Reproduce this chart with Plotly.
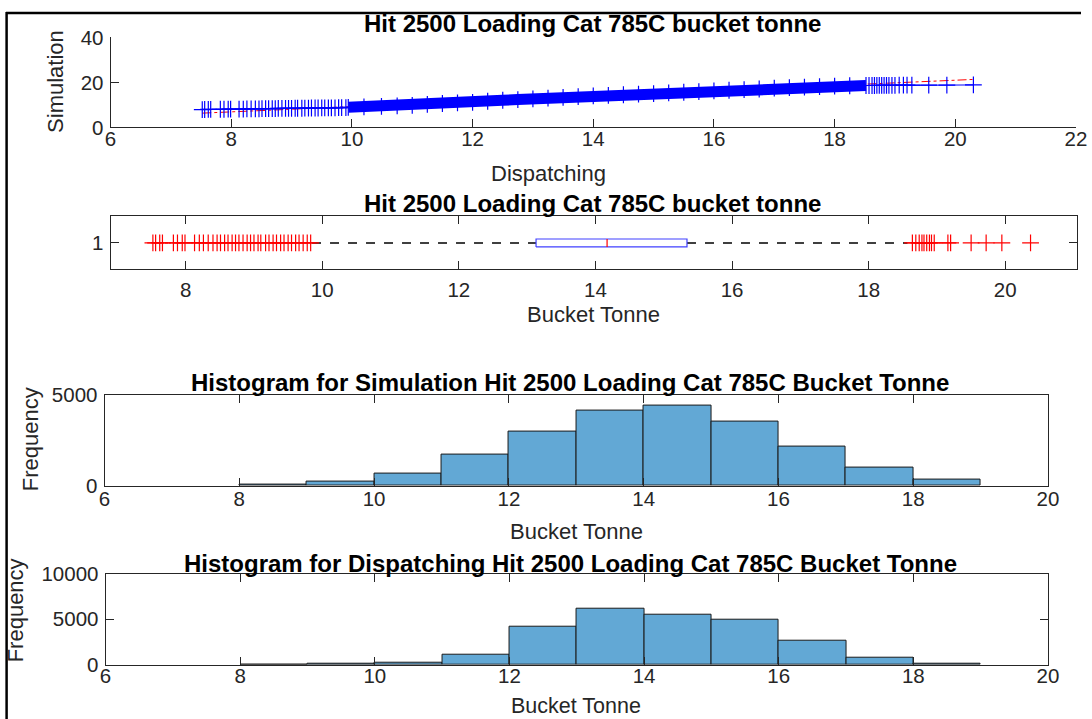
import plotly.graph_objects as go

W, H = 1092, 735
# the photographed page maps figure pixel f to picture pixel  a*f + b ; we place items by picture pixel
SX, OX = 0.985, 5.4
SY, OY = 0.968, 10.7

# ---------------- data ----------------
# Q-Q plot: Dispatching quantiles (x) vs Simulation quantiles (y)
qq_low_disp = [7.52, 7.56, 7.62, 7.66, 7.82, 7.88, 7.95, 7.99, 8.13, 8.20, 8.26, 8.33, 8.40, 8.46,
               8.51, 8.57, 8.62, 8.68, 8.73, 8.78, 8.84, 8.90, 8.95, 9.00, 9.06, 9.10, 9.17, 9.22,
               9.28, 9.33, 9.39, 9.44, 9.50, 9.55, 9.61, 9.66, 9.72, 9.78, 9.83, 9.90]
qq_low_sim = [7.9, 7.95, 8.0, 8.0, 8.05, 8.05, 8.1, 8.1, 8.15, 8.15, 8.2, 8.2, 8.25, 8.25, 8.3, 8.3,
              8.3, 8.35, 8.35, 8.4, 8.4, 8.4, 8.45, 8.45, 8.5, 8.5, 8.5, 8.55, 8.55, 8.6, 8.6, 8.6,
              8.65, 8.65, 8.7, 8.7, 8.7, 8.75, 8.75, 8.8]
qq_mid_disp = [9.94, 10.2, 10.49, 10.75, 11.0, 11.25, 11.5, 11.75, 12.0, 12.25, 12.5, 12.75, 13.0,
               13.25, 13.5, 13.75, 14.0, 14.25, 14.5, 14.75, 15.0, 15.25, 15.5, 15.75, 16.0, 16.25,
               16.5, 16.75, 17.0, 17.25, 17.5, 17.75, 18.0, 18.25, 18.52]
qq_mid_sim = [8.9, 9.1, 9.35, 9.55, 9.75, 10.2, 10.6, 10.85, 11.1, 11.6, 12.05, 12.35, 12.65, 13.0,
              13.35, 13.65, 14.0, 14.25, 14.5, 14.75, 15.0, 15.3, 15.6, 15.9, 16.25, 16.5, 16.75,
              17.05, 17.4, 17.65, 17.85, 18.1, 18.35, 18.5, 18.6]
qq_high_disp = [18.57, 18.62, 18.66, 18.70, 18.74, 18.78, 18.82, 18.86, 18.90, 18.95, 19.00, 19.07,
                19.14, 19.20, 19.28, 19.56, 19.86, 20.30]
qq_high_sim = [18.6, 18.6, 18.6, 18.65, 18.65, 18.65, 18.65, 18.7, 18.7, 18.7, 18.7, 18.75, 18.75,
               18.75, 18.75, 18.8, 18.8, 18.85]
# quartiles used for the Q-Q reference line
qq_quart_disp = [13.13, 15.34]
qq_quart_sim = [12.9, 15.49]

# Box plot of dispatching bucket tonne
box_q1, box_median, box_q3 = 13.13, 14.17, 15.34
box_lower_whisker, box_upper_whisker = 9.85, 18.57
box_low_outliers = qq_low_disp[:-1]
box_high_outliers = [18.64, 18.69, 18.74, 18.78, 18.81, 18.85, 18.89, 18.92, 18.96, 19.16, 19.20,
                     19.50, 19.72, 19.95, 20.37]

# Histograms (bin width 1)
bin_left_edges = [8, 9, 10, 11, 12, 13, 14, 15, 16, 17, 18]
sim_counts = [70, 200, 640, 1690, 2990, 4120, 4400, 3520, 2140, 970, 350]
disp_counts = [10, 70, 180, 1070, 4190, 6210, 5510, 4930, 2650, 810, 110]

# ---------------- helpers ----------------
def px_x(p):
    return ((p - OX) / SX) / W

def px_y(p):
    return 1 - ((p - OY) / SY) / H

AX = '#262626'
FONT = 'Liberation Sans, Arial, sans-serif'
TICKFONT = dict(family=FONT, size=20.5, color=AX)
BLUE = '#0000ff'
RED = '#ff0000'
HISTC = 'rgb(98,168,213)'

def axis(domain, rng, tickvals, anchor, mirror, standoff=0):
    return dict(domain=domain, range=rng, tickvals=tickvals, anchor=anchor, showline=True,
                linecolor=AX, linewidth=1, ticks='inside', ticklen=8, tickcolor=AX, tickwidth=1,
                mirror=mirror, showgrid=False, zeroline=False, tickfont=TICKFONT, fixedrange=True,
                tickformat='d', ticklabelstandoff=standoff)

fig = go.Figure()

# ---- panel 1: Q-Q plot ----
x_all = qq_low_disp + qq_mid_disp + qq_high_disp
y_all = qq_low_sim + qq_mid_sim + qq_high_sim
slope = (qq_quart_sim[1] - qq_quart_sim[0]) / (qq_quart_disp[1] - qq_quart_disp[0])
xmin, xmax = min(x_all), max(x_all)
ref_x = [xmin, xmax]
ref_y = [qq_quart_sim[0] + slope * (v - qq_quart_disp[0]) for v in ref_x]
fig.add_trace(go.Scatter(x=ref_x, y=ref_y, mode='lines', line=dict(color=RED, width=1, dash='dashdot'),
                         xaxis='x', yaxis='y', hoverinfo='skip'))
fig.add_trace(go.Scatter(x=x_all, y=y_all, mode='lines', line=dict(color=BLUE, width=1),
                         xaxis='x', yaxis='y', hoverinfo='skip'))
fig.add_trace(go.Scatter(x=qq_mid_disp, y=qq_mid_sim, mode='lines', line=dict(color=BLUE, width=11),
                         xaxis='x', yaxis='y', hoverinfo='skip'))
fig.add_trace(go.Scatter(x=x_all, y=y_all, mode='markers',
                         marker=dict(symbol='cross-thin', size=12, line=dict(color=BLUE, width=1.2)),
                         xaxis='x', yaxis='y'))

# ---- panel 2: box plot ----
hb = 0.075
fig.add_trace(go.Scatter(x=[box_lower_whisker, box_q1], y=[1, 1], mode='lines',
                         line=dict(color='black', width=1.6, dash='dash'), xaxis='x2', yaxis='y2'))
fig.add_trace(go.Scatter(x=[box_q3, box_upper_whisker], y=[1, 1], mode='lines',
                         line=dict(color='black', width=1.6, dash='dash'), xaxis='x2', yaxis='y2'))
fig.add_trace(go.Scatter(x=[box_q1, box_q3, box_q3, box_q1, box_q1], y=[1 - hb, 1 - hb, 1 + hb, 1 + hb, 1 - hb],
                         mode='lines', line=dict(color='#4040ff', width=1.2), xaxis='x2', yaxis='y2'))
fig.add_trace(go.Scatter(x=[box_median, box_median], y=[1 - hb, 1 + hb], mode='lines',
                         line=dict(color=RED, width=1.2), xaxis='x2', yaxis='y2'))
fig.add_trace(go.Scatter(x=box_low_outliers + box_high_outliers,
                         y=[1] * (len(box_low_outliers) + len(box_high_outliers)), mode='markers',
                         marker=dict(symbol='cross-thin', size=12, line=dict(color=RED, width=1.2)),
                         xaxis='x2', yaxis='y2'))

# ---- panels 3 & 4: histograms ----
centers = [e + 0.5 for e in bin_left_edges]
fig.add_trace(go.Bar(x=centers, y=sim_counts, width=1, marker=dict(color=HISTC, line=dict(color='#1a1a1a', width=1)),
                     xaxis='x3', yaxis='y3'))
fig.add_trace(go.Bar(x=centers, y=disp_counts, width=1, marker=dict(color=HISTC, line=dict(color='#1a1a1a', width=1)),
                     xaxis='x4', yaxis='y4'))

layout = dict(
    width=W, height=H, autosize=False, margin=dict(l=0, r=0, t=0, b=0),
    paper_bgcolor='white', plot_bgcolor='white', showlegend=False, bargap=0,
    xaxis=axis([px_x(110), px_x(1076)], [6, 22], [6, 8, 10, 12, 14, 16, 18, 20, 22], 'y', False, -7),
    yaxis=axis([px_y(126), px_y(36)], [0, 40], [0, 20, 40], 'x', False, 2),
    xaxis2=axis([px_x(110), px_x(1077)], [6.9, 21.05], [8, 10, 12, 14, 16, 18, 20], 'y2', 'ticks', 2),
    yaxis2=axis([px_y(268), px_y(215)], [0.5, 1.5], [1], 'x2', 'ticks', 2),
    xaxis3=axis([px_x(104), px_x(1048)], [6, 20], [6, 8, 10, 12, 14, 16, 18, 20], 'y3', 'ticks', -5),
    yaxis3=axis([px_y(484), px_y(393)], [0, 5000], [0, 5000], 'x3', 'ticks', 2),
    xaxis4=axis([px_x(105), px_x(1048)], [6, 20], [6, 8, 10, 12, 14, 16, 18, 20], 'y4', 'ticks', -7),
    yaxis4=axis([px_y(663), px_y(572)], [0, 10000], [0, 5000, 10000], 'x4', 'ticks', 2),
)
fig.update_layout(**layout)

def ann(text, x, y, size, bold=False, angle=0, yanchor='middle'):
    fig.add_annotation(text=f'<b>{text}</b>' if bold else text, x=px_x(x), y=max(px_y(y), 0), xref='paper',
                       yref='paper', showarrow=False, xanchor='center', yanchor=yanchor, textangle=angle,
                       font=dict(family=FONT, size=size, color='black' if bold else AX))

ann('Hit 2500 Loading Cat 785C bucket tonne', 592, 22, 24, bold=True)
ann('Hit 2500 Loading Cat 785C bucket tonne', 592, 202, 24, bold=True)
ann('Histogram for Simulation Hit 2500 Loading Cat 785C Bucket Tonne', 570, 381, 24, bold=True)
ann('Histogram for Dispatching Hit 2500 Loading Cat 785C Bucket Tonne', 570, 562, 24, bold=True)
ann('Dispatching', 548, 172, 22)
ann('Bucket Tonne', 593, 313, 22)
ann('Bucket Tonne', 576, 530, 22)
ann('Bucket Tonne', 576, 704, 21.5)
ann('Simulation', 55, 80, 22, angle=-90)
ann('Frequency', 30, 438, 22, angle=-90)
ann('Frequency', 15, 609, 22, angle=-90)

# outer frame (left and top edges visible)
fig.add_shape(type='line', xref='paper', yref='paper', x0=px_x(6), x1=px_x(6), y0=0, y1=1,
              line=dict(color='black', width=2.5))
fig.add_shape(type='line', xref='paper', yref='paper', x0=0, x1=1, y0=0.9985, y1=0.9985,
              line=dict(color='black', width=2.5))

fig.write_html('out.html')
